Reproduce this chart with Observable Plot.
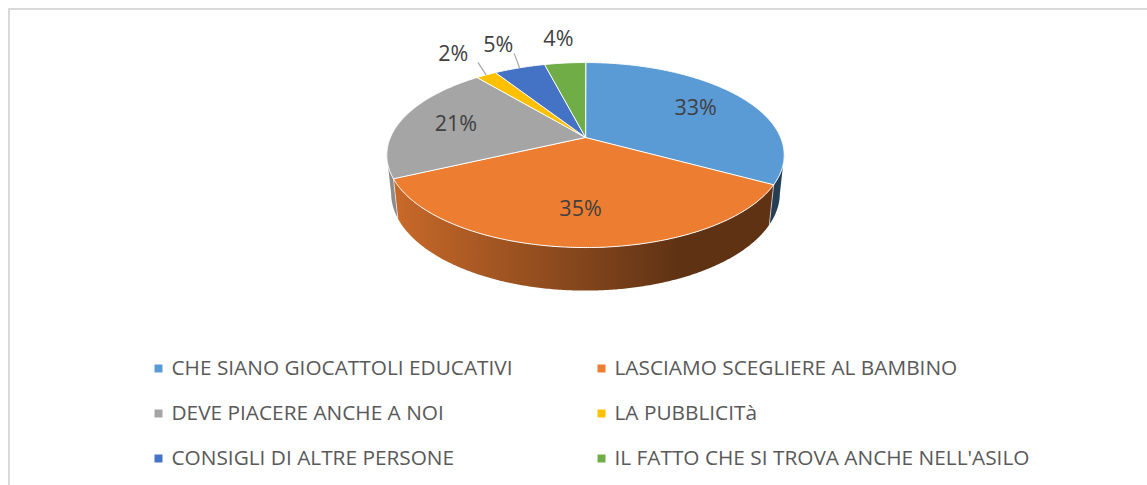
<!DOCTYPE html>
<html><head><meta charset="utf-8">
<script src="https://cdn.jsdelivr.net/npm/d3@7"></script>
<script src="https://cdn.jsdelivr.net/npm/@observablehq/plot@0.6"></script>
<style>
html,body{margin:0;padding:0;background:#fff;overflow:hidden;width:1147px;height:485px}
#frame{position:absolute;left:8px;top:8px;width:1300px;height:700px;border-left:2px solid #d9d9d9;border-top:2px solid #d9d9d9}
#chart{position:absolute;left:0;top:0}
#chart svg{display:block}
</style></head><body><div id="frame"></div><div id="chart"></div>
<script>
// ---- data ----
const categories = [
  "CHE SIANO GIOCATTOLI EDUCATIVI",
  "LASCIAMO SCEGLIERE AL BAMBINO",
  "DEVE PIACERE ANCHE A NOI",
  "LA PUBBLICITà",
  "CONSIGLI DI ALTRE PERSONE",
  "IL FATTO CHE SI TROVA ANCHE NELL'ASILO"
];
const values = [33, 35, 21, 2, 5, 4];
const colors = ["#5B9BD5", "#ED7D31", "#A5A5A5", "#FFC000", "#4472C4", "#70AD47"];
const labels = values.map(v => v + "%");
const leaderSlices = ["LA PUBBLICITà", "CONSIGLI DI ALTRE PERSONE"];

// ---- layout / 3D projection ----
const W = 1147, H = 485;
const cx = 585, cy = 137, focal = 915, dist = 4.69, tilt = 27.2 * Math.PI / 180, thick = 0.22;
const sinT = Math.sin(tilt), cosT = Math.cos(tilt);
function project(r, theta, yh) {
  const X = r * Math.sin(theta), Z = r * Math.cos(theta);
  const up = yh * cosT + Z * sinT;
  const depth = dist + Z * cosT - yh * sinT;
  return [cx + X * focal / depth, cy - up * focal / depth];
}
const shadeX0 = 390, shadeX1 = 680, shadeK0 = 0.85, shadeK1 = 0.40;
function scaled(hex, k) {
  const c = d3.rgb(hex);
  return d3.rgb(c.r * k, c.g * k, c.b * k).formatHex();
}
const total = d3.sum(values);
const tMin = Math.acos(-cosT / dist), tMax = 2 * Math.PI - tMin;
const deg = Math.PI / 180;

const topPts = [], walls = [], edges = [], labelRows = [], leaders = [];
let cum = 0;
values.forEach((v, i) => {
  const a0 = cum / total * 2 * Math.PI; cum += v;
  const a1 = cum / total * 2 * Math.PI;
  const name = categories[i];
  // top face
  const [ccx, ccy] = project(0, 0, 0);
  topPts.push({id: name, x: ccx, y: ccy, color: colors[i]});
  const n = Math.max(2, Math.ceil((a1 - a0) / (0.5 * deg)));
  for (let k = 0; k <= n; k++) {
    const t = a0 + (a1 - a0) * k / n;
    const [x, y] = project(1, t, 0);
    topPts.push({id: name, x, y, color: colors[i]});
  }
  // visible outer wall
  const w0 = Math.max(a0, tMin), w1 = Math.min(a1, tMax);
  if (w1 > w0) {
    const m = Math.max(2, Math.ceil((w1 - w0) / (0.5 * deg)));
    const pts = [];
    for (let k = 0; k <= m; k++) { const [x, y] = project(1, w0 + (w1 - w0) * k / m, 0); pts.push({x, y}); }
    for (let k = m; k >= 0; k--) { const [x, y] = project(1, w0 + (w1 - w0) * k / m, -thick); pts.push({x, y}); }
    walls.push({i, pts});
  }
  if (a0 > tMin && a0 < tMax) {
    const [x1, y1] = project(1, a0, 0), [x2, y2] = project(1, a0, -thick);
    edges.push({x1, y1, x2, y2});
  }
  // labels
  const mid = (a0 + a1) / 2;
  const inside = v >= 10;
  const [lx, ly] = project(inside ? 0.7 : 1.4, mid, 0);
  labelRows.push({x: lx, y: ly, text: labels[i]});
  if (leaderSlices.includes(name)) {
    const [rx, ry] = project(1, mid, 0);
    leaders.push({x1: rx, y1: ry, x2: rx + (lx - rx) * 0.25, y2: ly + 8});
  }
});

const legendRows = categories.map((c, i) => ({
  name: c, color: colors[i],
  mx: i % 2 === 0 ? 158 : 601,
  y: 368 + Math.floor(i / 2) * 45
}));

const chart = Plot.plot({
  width: W, height: H,
  margin: 0,
  x: {domain: [0, W], range: [0, W], axis: null},
  y: {domain: [0, H], range: [0, H], axis: null},
  color: {type: "identity"},
  style: {fontFamily: "'Open Sans', sans-serif", background: "transparent"},
  marks: [
    ...walls.map(w => Plot.line(w.pts, {x: "x", y: "y", fill: `url(#wallgrad${w.i})`, stroke: "none", curve: "linear-closed"})),
    Plot.link(edges, {x1: "x1", y1: "y1", x2: "x2", y2: "y2", stroke: "#ffffff", strokeOpacity: 0.6, strokeWidth: 1}),
    Plot.line(topPts, {x: "x", y: "y", z: "id", fill: "color", stroke: "#ffffff", strokeWidth: 1, curve: "linear-closed"}),
    Plot.link(leaders, {x1: "x1", y1: "y1", x2: "x2", y2: "y2", stroke: "#a6a6a6", strokeWidth: 1.2}),
    Plot.text(labelRows, {x: "x", y: "y", text: "text", fill: "#404040", fontSize: 21.5}),
    Plot.dot(legendRows, {x: "mx", y: "y", symbol: "square", r: 4.5, fill: "color", stroke: null}),
    Plot.text(legendRows, {x: d => d.mx + 13, y: "y", text: "name", textAnchor: "start", fill: "#595959", fontSize: 20.8})
  ]
});
// wall shading gradients (horizontal light-to-dark)
const defs = d3.select(chart).insert("defs", ":first-child");
colors.forEach((c, i) => {
  const g = defs.append("linearGradient").attr("id", "wallgrad" + i)
    .attr("gradientUnits", "userSpaceOnUse")
    .attr("x1", shadeX0).attr("x2", shadeX1).attr("y1", 0).attr("y2", 0);
  g.append("stop").attr("offset", 0).attr("stop-color", scaled(c, shadeK0));
  g.append("stop").attr("offset", 1).attr("stop-color", scaled(c, shadeK1));
});
document.getElementById("chart").appendChild(chart);
</script>
</body></html>
